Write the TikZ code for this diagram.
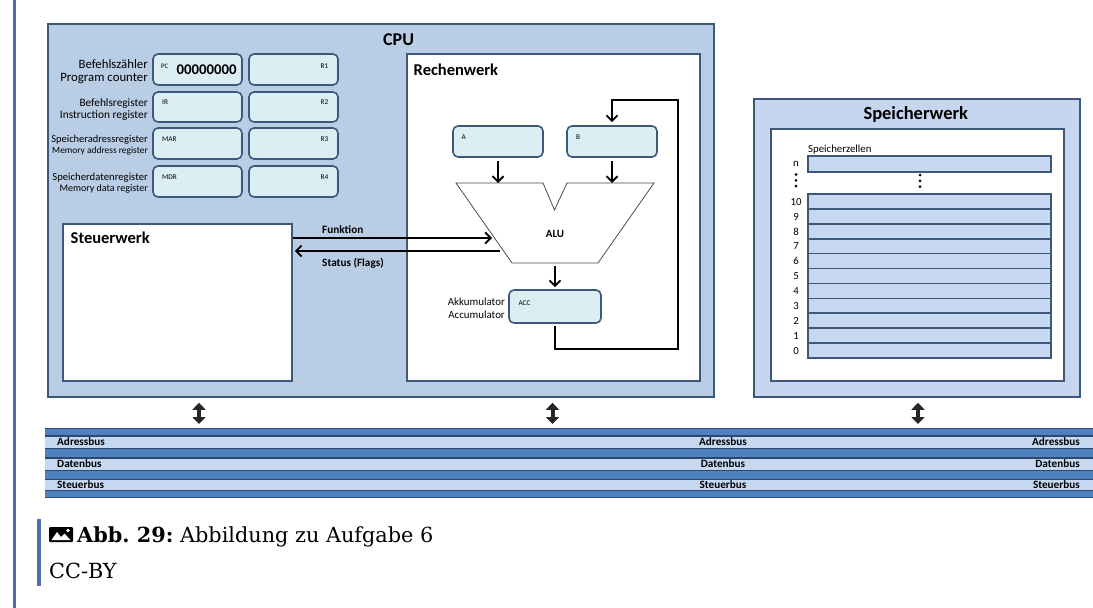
\documentclass[tikz,border=0pt]{standalone}
\usepackage{fontspec}
\setmainfont{Carlito}
\newfontfamily\capserif{DejaVu Serif}
\usetikzlibrary{arrows.meta,calc}
\definecolor{pagebar}{RGB}{85,110,168}
\definecolor{cpufill}{RGB}{185,205,229}
\definecolor{memfill}{RGB}{198,214,238}
\definecolor{frame}{RGB}{62,88,124}
\definecolor{regfill}{RGB}{219,238,244}
\definecolor{cellfill}{RGB}{198,217,241}
\definecolor{busmid}{RGB}{79,129,189}
\definecolor{busdark}{RGB}{44,72,112}
\definecolor{buslight}{RGB}{198,217,241}
\newcommand\fsz[1]{\fontsize{#1}{#1}\selectfont}
\frenchspacing
\begin{document}
\begin{tikzpicture}[x=1pt,y=-1pt,
  unitbox/.style={draw=frame,line width=1.6pt,inner sep=0pt},
  reg/.style={draw=frame,fill=regfill,line width=1.6pt,rounded corners=5pt,inner sep=0pt,minimum height=31pt},
  cell/.style={draw=frame,fill=cellfill,line width=1.6pt,inner sep=0pt,minimum width=243pt},
  tiny/.style={font=\fsz{7.3},inner sep=0pt},
  small/.style={inner sep=0pt},
  title/.style={font=\bfseries\fsz{16.5},inner sep=0pt,anchor=base west},
  wire/.style={line width=1.9pt,black},
  arr/.style={wire,-{Straight Barb[length=5.5pt,width=11pt]}},
  dbl/.style={line width=4pt,black!85,{Triangle[length=7pt,width=13pt]}-{Triangle[length=7pt,width=13pt]}},
  buslabel/.style={font=\bfseries\fsz{11.2},inner sep=0pt}
]
\useasboundingbox (0,0) rectangle (1093,608);
\fill[white] (0,0) rectangle (1093,608);
\fill[pagebar] (12.5,0) rectangle (15.5,608);

% ---------------- CPU ----------------
\node[unitbox,fill=cpufill,minimum width=666pt,minimum height=373pt] (cpu) at (381,210.5) {};
\node[title,font=\bfseries\fsz{18}] (cpu-t) at (383,45) {CPU};

% registers
\node[reg,minimum width=89pt] (pc) at (197.5,69.5) {};
\node[reg,minimum width=89pt] (r1) at (293.5,69.5) {};
\node[reg,minimum width=89pt,minimum height=30pt] (ir) at (197.5,107) {};
\node[reg,minimum width=89pt,minimum height=30pt] (r2) at (293.5,107) {};
\node[reg,minimum width=89pt] (mar) at (197.5,143.5) {};
\node[reg,minimum width=89pt] (r3) at (293.5,143.5) {};
\node[reg,minimum width=89pt] (mdr) at (197.5,181.5) {};
\node[reg,minimum width=89pt] (r4) at (293.5,181.5) {};

\node[tiny,anchor=base west,font=\fsz{6.8}] (pc-l) at (161,68) {PC};
\node[anchor=base west,inner sep=0pt,font=\bfseries\fsz{14.8}] (pc-v) at (176.5,74.7) {00000000};
\node[tiny,anchor=base west] (ir-l) at (162,104.3) {IR};
\node[tiny,anchor=base west] (mar-l) at (162,141.7) {MAR};
\node[tiny,anchor=base west] (mdr-l) at (162,179.3) {MDR};
\node[tiny,anchor=base east] (r1-l) at (328.5,68.3) {R1};
\node[tiny,anchor=base east] (r2-l) at (328.5,104.3) {R2};
\node[tiny,anchor=base east] (r3-l) at (328.5,141.7) {R3};
\node[tiny,anchor=base east] (r4-l) at (328.5,179.3) {R4};

\node[small,anchor=base east,font=\fsz{12.8}] (pc-n1) at (148,68.3) {Befehlszähler};
\node[small,anchor=base east,font=\fsz{12.8}] (pc-n2) at (148,81) {Program counter};
\node[small,anchor=base east,font=\fsz{11.3}] (ir-n1) at (148,106) {Befehlsregister};
\node[small,anchor=base east,font=\fsz{11.4}] (ir-n2) at (148,118.3) {Instruction register};
\node[small,anchor=base east,font=\fsz{10.5}] (mar-n1) at (148,142.3) {Speicheradressregister};
\node[small,anchor=base east,font=\fsz{9.4}] (mar-n2) at (148,153.3) {Memory address register};
\node[small,anchor=base east,font=\fsz{10.7}] (mdr-n1) at (148,180) {Speicherdatenregister};
\node[small,anchor=base east,font=\fsz{10}] (mdr-n2) at (148,191) {Memory data register};

% Steuerwerk
\node[unitbox,fill=white,minimum width=229pt,minimum height=157pt] (sw) at (177.5,302.5) {};
\node[title] (sw-t) at (70.5,243.3) {Steuerwerk};

% Rechenwerk
\node[unitbox,fill=white,minimum width=293pt,minimum height=327pt] (rw) at (553.5,217.5) {};
\node[title] (rw-t) at (413.5,75) {Rechenwerk};

\node[reg,minimum width=90pt] (a) at (498,141.5) {};
\node[reg,minimum width=90pt] (b) at (612,141.5) {};
\node[tiny,anchor=base west] (a-l) at (461.5,139.3) {A};
\node[tiny,anchor=base west] (b-l) at (576,139.3) {B};

% ALU outline with its input notch
\coordinate (alu-a) at (498,183);
\coordinate (alu-b) at (612,183);
\coordinate (alu-out) at (555,263);
\coordinate (alu-f) at (492,238);
\coordinate (alu-s) at (500,251);
\draw[line width=0.8pt,draw=black!70,fill=white]
  (456,183) -- (543,183) -- (554.5,210) -- (567,183) -- (654,183) -- (598,263) -- (512,263) -- cycle;
\node[font=\bfseries\fsz{11},inner sep=0pt,anchor=base] (alu) at (555,237.7) {ALU};

\node[reg,minimum width=92pt,minimum height=33pt] (acc) at (555,306.5) {};
\node[tiny,anchor=base west] (acc-l) at (518.3,305) {ACC};
\node[small,anchor=base east,font=\fsz{10.9}] (acc-n1) at (505,305) {Akkumulator};
\node[small,anchor=base east,font=\fsz{10.9}] (acc-n2) at (505,318.3) {Accumulator};

\draw[arr,shorten <=3pt] (a.south) -- (alu-a);
\draw[arr,shorten <=3pt] (b.south) -- (alu-b);
\draw[arr,shorten <=3pt,shorten >=2pt] (alu-out) -- (acc.north);

% result fed back into register B
\coordinate (fb1) at (678,349);
\coordinate (fb2) at (678,100);
\draw[arr,shorten <=2pt,shorten >=3pt] (acc.south) |- (fb1) -- (fb2) -| (b.north);

% control / status lines
\draw[arr] (sw.north east |- alu-f) -- (alu-f);
\draw[arr,shorten >=2pt] (alu-s) -- (sw.north east |- alu-s);
\node[font=\bfseries\fsz{11.2},inner sep=0pt,anchor=base west] (fn-l) at (322,233.3) {Funktion};
\node[font=\bfseries\fsz{11.2},inner sep=0pt,anchor=base west] (st-l) at (322,266.5) {Status (Flags)};

% ---------------- Speicherwerk ----------------
\node[unitbox,fill=memfill,minimum width=326pt,minimum height=298pt] (sp) at (917,248) {};
\node[title,font=\bfseries\fsz{18.5}] (sp-t) at (863.3,119.3) {Speicherwerk};
\node[unitbox,fill=white,minimum width=293pt,minimum height=252pt] (spi) at (917.5,255) {};
\node[small,anchor=base west,font=\fsz{10.8}] (zellen) at (808,152.3) {Speicherzellen};
\node[cell,minimum height=16pt] (celln) at (929.5,164) {};
\node[small,font=\fsz{10.8},anchor=base] (numn) at (796,166.5) {n};
\foreach \yy in {174.5,180.3,186.1} {
  \fill (796,\yy) circle (1.5);
  \fill (920,\yy+0.5) circle (1.5);
}
\foreach \i [count=\k from 0] in {10,9,...,0} {
  \pgfmathsetmacro\cy{201.45+14.9*\k}
  \node[cell,minimum height=14.9pt] (cell\i) at (929.5,\cy) {};
  \node[small,font=\fsz{10.8},anchor=base] (num\i) at (796,\cy+3.8) {\i};
}

% ---------------- system bus ----------------
\fill[busmid] (45,428) rectangle (1093,436);
\fill[buslight] (45,436) rectangle (1093,448);
\fill[busmid] (45,448) rectangle (1093,458);
\fill[buslight] (45,458) rectangle (1093,470);
\fill[busmid] (45,470) rectangle (1093,480);
\fill[buslight] (45,480) rectangle (1093,490);
\fill[busmid] (45,490) rectangle (1093,498);
\foreach \yy in {428.6,436,448.6,458,470.6,479.6,490.6,497.6}
  \draw[busdark,line width=1.3pt] (45,\yy) -- (1093,\yy);

\foreach \yy/\txt in {445.7/Adressbus,467.7/Datenbus,488.3/Steuerbus} {
  \node[buslabel,anchor=base west] (l-\txt) at (57,\yy) {\txt};
  \node[buslabel,anchor=base] (m-\txt) at (723,\yy) {\txt};
  \node[buslabel,anchor=base east] (r-\txt) at (1080,\yy) {\txt};
}

\coordinate (busl) at (199,428);
\coordinate (busm) at (552.5,428);
\coordinate (busr) at (918,428);
\draw[dbl,shorten <=5pt,shorten >=4pt] (busl |- cpu.south) -- (busl);
\draw[dbl,shorten <=5pt,shorten >=4pt] (busm |- cpu.south) -- (busm);
\draw[dbl,shorten <=5pt,shorten >=4pt] (busr |- sp.south) -- (busr);

% ---------------- caption ----------------
\fill[pagebar] (36.5,519) rectangle (40.5,586);
\fill[black,rounded corners=1pt] (49,527) rectangle (73,542);
\fill[white] (51.5,540) -- (57,532) -- (61,537) -- (64.5,533.5) -- (70.5,540) -- cycle;
\fill[white] (68,530.5) circle (1.8);
\node[anchor=base west,inner sep=0pt,font=\capserif\fsz{20.8}] (cap1) at (77,542) {\textbf{Abb. 29:} Abbildung zu Aufgabe 6};
\node[anchor=base west,inner sep=0pt,font=\capserif\fsz{20.8}] (cap2) at (49,578) {CC-BY};
\end{tikzpicture}
\end{document}
